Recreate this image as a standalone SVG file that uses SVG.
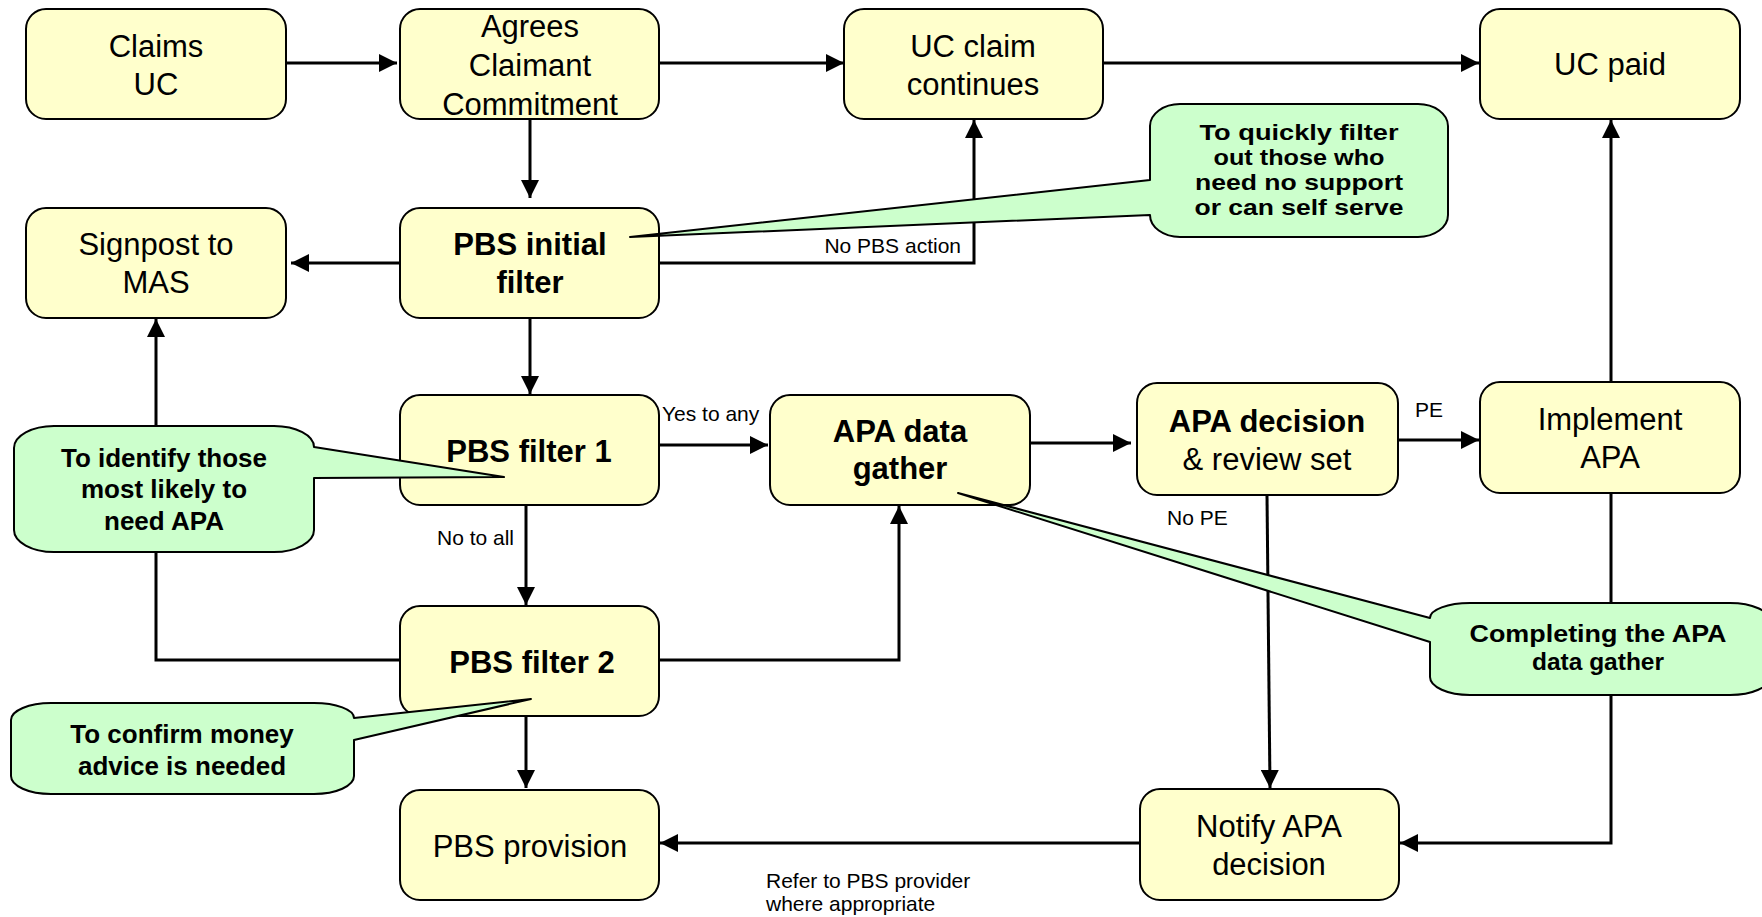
<svg xmlns="http://www.w3.org/2000/svg" width="1762" height="917" viewBox="0 0 1762 917">
<style>
.node rect{fill:#FFFFCC;stroke:#000;stroke-width:2}
.node text{font-family:"Liberation Sans",Arial,sans-serif;font-size:31px;text-anchor:middle;fill:#000}
.b{font-weight:bold}
.call path{fill:#CCFFCC;stroke:#000;stroke-width:2;stroke-linejoin:round}
.call text{font-family:"Liberation Sans",Arial,sans-serif;font-weight:bold;text-anchor:middle;fill:#000}
.conn path{fill:none;stroke:#000;stroke-width:3}
.lbl{font-family:"Liberation Sans",Arial,sans-serif;font-size:21px;fill:#000}
</style>
<defs>
<marker id="ah" markerUnits="userSpaceOnUse" markerWidth="18" markerHeight="18" viewBox="0 0 17 17" refX="17" refY="8.5" orient="auto">
<path d="M0,0 L17,8.5 L0,17 Z" fill="#000"/>
</marker>
</defs>
<rect width="1762" height="917" fill="#fff"/>
<g id="connectors" class="conn">
<path d="M287,63 H397" marker-end="url(#ah)"/>
<path d="M659,63 H844" marker-end="url(#ah)"/>
<path d="M1103,63 H1479" marker-end="url(#ah)"/>
<path d="M530,119 V198" marker-end="url(#ah)"/>
<path d="M400,263 H291" marker-end="url(#ah)"/>
<path d="M659,263 H974 V120" marker-end="url(#ah)"/>
<path d="M530,318 V394" marker-end="url(#ah)"/>
<path d="M659,445 H768" marker-end="url(#ah)"/>
<path d="M526,505 V605" marker-end="url(#ah)"/>
<path d="M400,660 H156 V319" marker-end="url(#ah)"/>
<path d="M659,660 H899 V506" marker-end="url(#ah)"/>
<path d="M526,716 V788" marker-end="url(#ah)"/>
<path d="M1030,443 H1131" marker-end="url(#ah)"/>
<path d="M1398,440 H1479" marker-end="url(#ah)"/>
<path d="M1267,495 L1270,788" marker-end="url(#ah)"/>
<path d="M1611,382 V120" marker-end="url(#ah)"/>
<path d="M1611,493 V843 H1400" marker-end="url(#ah)"/>
<path d="M1140,843 H660" marker-end="url(#ah)"/>
<text class="lbl" x="961" y="253" text-anchor="end">No PBS action</text>
<text class="lbl" x="662" y="421">Yes to any</text>
<text class="lbl" x="437" y="545">No to all</text>
<text class="lbl" x="1415" y="417">PE</text>
<text class="lbl" x="1167" y="525">No PE</text>
<text class="lbl" x="766" y="888">Refer to PBS provider</text>
<text class="lbl" x="766" y="911">where appropriate</text>
</g>
<g id="n-claims" class="node"><rect x="26" y="9" width="260" height="110" rx="20"/><text x="156" y="57">Claims</text><text x="156" y="95">UC</text></g>
<g id="n-agrees" class="node"><rect x="400" y="9" width="259" height="110" rx="20"/><text x="530" y="37">Agrees</text><text x="530" y="76">Claimant</text><text x="530" y="115">Commitment</text></g>
<g id="n-continues" class="node"><rect x="844" y="9" width="259" height="110" rx="20"/><text x="973" y="57">UC claim</text><text x="973" y="95">continues</text></g>
<g id="n-paid" class="node"><rect x="1480" y="9" width="260" height="110" rx="20"/><text x="1610" y="75">UC paid</text></g>
<g id="n-signpost" class="node"><rect x="26" y="208" width="260" height="110" rx="20"/><text x="156" y="255">Signpost to</text><text x="156" y="293">MAS</text></g>
<g id="n-initial" class="node"><rect x="400" y="208" width="259" height="110" rx="20"/><text class="b" x="530" y="255">PBS initial</text><text class="b" x="530" y="293">filter</text></g>
<g id="n-filter1" class="node"><rect x="400" y="395" width="259" height="110" rx="20"/><text class="b" x="529" y="462">PBS filter 1</text></g>
<g id="n-filter2" class="node"><rect x="400" y="606" width="259" height="110" rx="20"/><text class="b" x="532" y="673">PBS filter 2</text></g>
<g id="n-provision" class="node"><rect x="400" y="790" width="259" height="110" rx="20"/><text x="530" y="857">PBS provision</text></g>
<g id="n-gather" class="node"><rect x="770" y="395" width="260" height="110" rx="20"/><text class="b" x="900" y="442">APA data</text><text class="b" x="900" y="479">gather</text></g>
<g id="n-decision" class="node"><rect x="1137" y="383" width="261" height="112" rx="20"/><text class="b" x="1267" y="432">APA decision</text><text x="1267" y="470">&amp; review set</text></g>
<g id="n-implement" class="node"><rect x="1480" y="382" width="260" height="111" rx="20"/><text x="1610" y="430">Implement</text><text x="1610" y="468">APA</text></g>
<g id="n-notify" class="node"><rect x="1140" y="789" width="259" height="111" rx="20"/><text x="1269" y="837">Notify APA</text><text x="1269" y="875">decision</text></g>
<g id="c-quick" class="call">
<path d="M1180,104 H1418 A30,22 0 0 1 1448,126 V215 A30,22 0 0 1 1418,237 H1180 A30,22 0 0 1 1150,215 L630,237 L1150,180 V126 A30,22 0 0 1 1180,104 Z"/>
<text font-size="22.3" x="1299" y="140" textLength="199" lengthAdjust="spacingAndGlyphs">To quickly filter</text>
<text font-size="22.3" x="1299" y="165" textLength="171" lengthAdjust="spacingAndGlyphs">out those who</text>
<text font-size="22.3" x="1299" y="190" textLength="208" lengthAdjust="spacingAndGlyphs">need no support</text>
<text font-size="22.3" x="1299" y="215" textLength="209" lengthAdjust="spacingAndGlyphs">or can self serve</text>
</g>
<g id="c-identify" class="call">
<path d="M54,426 H274 A40,21 0 0 1 314,447 L504,477 L314,478 V530 A40,22 0 0 1 274,552 H54 A40,22 0 0 1 14,530 V448 A40,22 0 0 1 54,426 Z"/>
<text font-size="26" x="164" y="467">To identify those</text>
<text font-size="26" x="164" y="498">most likely to</text>
<text font-size="26" x="164" y="530">need APA</text>
</g>
<g id="c-confirm" class="call">
<path d="M51,703 H314 A40,15 0 0 1 354,718 L531,699 L354,740 V776 A40,18 0 0 1 314,794 H51 A40,18 0 0 1 11,776 V720 A40,17 0 0 1 51,703 Z"/>
<text font-size="26" x="182" y="743">To confirm money</text>
<text font-size="26" x="182" y="775">advice is needed</text>
</g>
<g id="c-complete" class="call">
<path d="M1470,603 H1730 A40,18 0 0 1 1770,621 V677 A40,18 0 0 1 1730,695 H1470 A40,18 0 0 1 1430,677 V642 L958,493 L1430,618 A40,15 0 0 1 1470,603 Z"/>
<text font-size="24.5" x="1598" y="642" textLength="257" lengthAdjust="spacingAndGlyphs">Completing the APA</text>
<text font-size="24.5" x="1598" y="670">data gather</text>
</g>
</svg>
